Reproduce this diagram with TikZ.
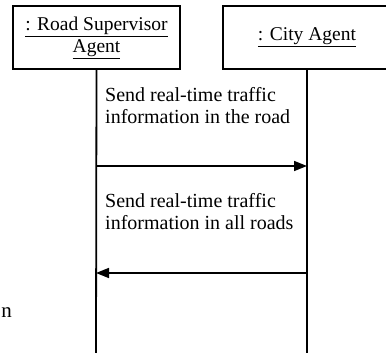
\documentclass[tikz,border=0pt]{standalone}
\usepackage{fontspec}
\setmainfont{Liberation Serif}
\usetikzlibrary{arrows.meta}
\tikzset{
  lifebox/.style={draw, line width=1.8pt, minimum height=63pt, inner sep=0pt, align=center,
    font=\fontsize{19.5}{23}\selectfont},
  lifeline/.style={line width=1.8pt},
  msg/.style={line width=1.6pt, -{Triangle[length=13pt,width=10pt]}},
  msgtext/.style={anchor=base west, inner sep=0pt, align=left, font=\fontsize{20}{22}\selectfont}
}
\begin{document}
\begin{tikzpicture}[x=1pt,y=-1pt]
  \useasboundingbox (0,0) rectangle (386,355);
  % lifeline heads
  \node[lifebox, minimum width=167pt] (rsa) at (96.5,37.5)
    {\underline{: Road Supervisor}\\[-1pt]\underline{Agent}};
  \node[lifebox, minimum width=168pt] (city) at (307,37.5)
    {\underline{: City Agent}};
  % lifeline ends
  \coordinate (rsaEnd) at (96,353);
  \coordinate (cityEnd) at (307,353);
  \draw[lifeline] (rsa.south) -- (rsaEnd);
  \draw[lifeline] (city.south) -- (cityEnd);
  % messages
  \coordinate (m1a) at (96,166);
  \coordinate (m1b) at (307,166);
  \coordinate (m2a) at (307,273);
  \coordinate (m2b) at (96,273);
  \draw[msg] (m1a) -- (m1b);
  \draw[msg] (m2a) -- (m2b);
  \node[msgtext] (t1) at (105,124) {Send real-time traffic\\information in the road};
  \node[msgtext] (t2) at (105,230) {Send real-time traffic\\information in all roads};
  % clipped text fragment at the left edge
  \node[anchor=base east, inner sep=0pt, font=\fontsize{21}{22}\selectfont] (frag) at (12,318) {n};
\end{tikzpicture}
\end{document}
